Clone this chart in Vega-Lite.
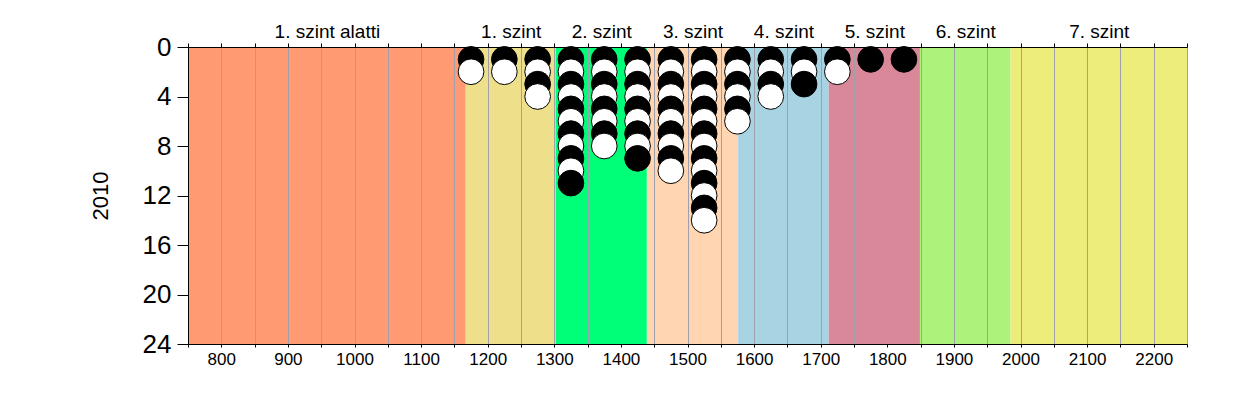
{
  "$schema": "https://vega.github.io/schema/vega-lite/v6.json",
  "width": 999,
  "height": 297,
  "autosize": "none",
  "padding": {"left": 188, "top": 47, "right": 63, "bottom": 51},
  "background": "white",
  "config": {
    "view": {"stroke": null},
    "font": "Liberation Sans",
    "axis": {"domainColor": "black", "tickColor": "black", "labelColor": "black", "titleColor": "black", "labelFont": "Liberation Sans", "titleFont": "Liberation Sans"}
  },
  "layer": [
    {
      "data": {"values": [
        {"level": "1. szint alatti", "from": 750, "to": 1167},
        {"level": "1. szint", "from": 1167, "to": 1302},
        {"level": "2. szint", "from": 1302, "to": 1439},
        {"level": "3. szint", "from": 1439, "to": 1576},
        {"level": "4. szint", "from": 1576, "to": 1712},
        {"level": "5. szint", "from": 1712, "to": 1849},
        {"level": "6. szint", "from": 1849, "to": 1985},
        {"level": "7. szint", "from": 1985, "to": 2250}
      ]},
      "mark": {"type": "rect"},
      "encoding": {
        "x": {
          "field": "from", "type": "quantitative",
          "scale": {"domain": [750, 2250], "nice": false, "zero": false},
          "axis": {
            "orient": "top", "title": null, "grid": false, "zindex": 1,
            "values": [750,800,850,900,950,1000,1050,1100,1150,1200,1250,1300,1350,1400,1450,1500,1550,1600,1650,1700,1750,1800,1850,1900,1950,2000,2050,2100,2150,2200,2250,958.5,1234.5,1370.5,1507.5,1644,1780.5,1917,2117.5],
            "labelExpr": "datum.value == 958.5 ? '1. szint alatti' : datum.value == 1234.5 ? '1. szint' : datum.value == 1370.5 ? '2. szint' : datum.value == 1507.5 ? '3. szint' : datum.value == 1644 ? '4. szint' : datum.value == 1780.5 ? '5. szint' : datum.value == 1917 ? '6. szint' : datum.value == 2117.5 ? '7. szint' : ''",
            "tickOpacity": {"condition": {"test": "datum.value % 50 == 0", "value": 1}, "value": 0},
            "tickSize": 4,
            "labelFontSize": 19,
            "labelPadding": 2,
            "labelOverlap": false,
            "labelFlush": false,
            "labelBound": false
          }
        },
        "x2": {"field": "to"},
        "color": {
          "field": "level", "type": "nominal", "legend": null,
          "scale": {
            "domain": ["1. szint alatti", "1. szint", "2. szint", "3. szint", "4. szint", "5. szint", "6. szint", "7. szint"],
            "range": ["#FF9A72", "#EEE08A", "#00FF78", "#FFD6B1", "#A7D3E3", "#D98899", "#ADF27B", "#EDED7B"]
          }
        }
      }
    },
    {
      "data": {"values": [
        {"score": 1175, "n": 1}, {"score": 1175, "n": 2},
        {"score": 1225, "n": 1}, {"score": 1225, "n": 2},
        {"score": 1275, "n": 1}, {"score": 1275, "n": 2}, {"score": 1275, "n": 3}, {"score": 1275, "n": 4},
        {"score": 1325, "n": 1}, {"score": 1325, "n": 2}, {"score": 1325, "n": 3}, {"score": 1325, "n": 4}, {"score": 1325, "n": 5}, {"score": 1325, "n": 6}, {"score": 1325, "n": 7}, {"score": 1325, "n": 8}, {"score": 1325, "n": 9}, {"score": 1325, "n": 10}, {"score": 1325, "n": 11},
        {"score": 1375, "n": 1}, {"score": 1375, "n": 2}, {"score": 1375, "n": 3}, {"score": 1375, "n": 4}, {"score": 1375, "n": 5}, {"score": 1375, "n": 6}, {"score": 1375, "n": 7}, {"score": 1375, "n": 8},
        {"score": 1425, "n": 1}, {"score": 1425, "n": 2}, {"score": 1425, "n": 3}, {"score": 1425, "n": 4}, {"score": 1425, "n": 5}, {"score": 1425, "n": 6}, {"score": 1425, "n": 7}, {"score": 1425, "n": 8}, {"score": 1425, "n": 9},
        {"score": 1475, "n": 1}, {"score": 1475, "n": 2}, {"score": 1475, "n": 3}, {"score": 1475, "n": 4}, {"score": 1475, "n": 5}, {"score": 1475, "n": 6}, {"score": 1475, "n": 7}, {"score": 1475, "n": 8}, {"score": 1475, "n": 9}, {"score": 1475, "n": 10},
        {"score": 1525, "n": 1}, {"score": 1525, "n": 2}, {"score": 1525, "n": 3}, {"score": 1525, "n": 4}, {"score": 1525, "n": 5}, {"score": 1525, "n": 6}, {"score": 1525, "n": 7}, {"score": 1525, "n": 8}, {"score": 1525, "n": 9}, {"score": 1525, "n": 10}, {"score": 1525, "n": 11}, {"score": 1525, "n": 12}, {"score": 1525, "n": 13}, {"score": 1525, "n": 14},
        {"score": 1575, "n": 1}, {"score": 1575, "n": 2}, {"score": 1575, "n": 3}, {"score": 1575, "n": 4}, {"score": 1575, "n": 5}, {"score": 1575, "n": 6},
        {"score": 1625, "n": 1}, {"score": 1625, "n": 2}, {"score": 1625, "n": 3}, {"score": 1625, "n": 4},
        {"score": 1675, "n": 1}, {"score": 1675, "n": 2}, {"score": 1675, "n": 3},
        {"score": 1725, "n": 1}, {"score": 1725, "n": 2},
        {"score": 1775, "n": 1},
        {"score": 1825, "n": 1}
      ]},
      "mark": {"type": "point", "shape": "circle", "filled": true, "size": 660, "stroke": "black", "strokeWidth": 1, "opacity": 1, "fillOpacity": 1, "strokeOpacity": 1},
      "encoding": {
        "x": {
          "field": "score", "type": "quantitative",
          "scale": {"domain": [750, 2250], "nice": false, "zero": false},
          "axis": {
            "orient": "bottom", "title": null, "grid": true, "gridColor": "#A0A0AA", "gridWidth": 1, "zindex": 1,
            "values": [750,800,850,900,950,1000,1050,1100,1150,1200,1250,1300,1350,1400,1450,1500,1550,1600,1650,1700,1750,1800,1850,1900,1950,2000,2050,2100,2150,2200,2250],
            "format": "d",
            "labelExpr": "datum.value % 100 == 0 ? datum.label : ''",
            "tickSize": 3,
            "labelFontSize": 17,
            "labelPadding": 4,
            "labelOverlap": false,
            "labelFlush": false,
            "labelBound": false
          }
        },
        "y": {
          "field": "n", "type": "quantitative",
          "scale": {"domain": [0, 24], "reverse": true, "nice": false, "zero": false},
          "axis": {
            "values": [0, 4, 8, 12, 16, 20, 24],
            "grid": false, "zindex": 1,
            "tickSize": 11,
            "labelFontSize": 26,
            "labelPadding": 6,
            "title": "2010",
            "titleFontSize": 22,
            "titleFontWeight": "normal",
            "titlePadding": 30
          }
        },
        "fill": {"condition": {"test": "datum.n % 2 == 1", "value": "black"}, "value": "white"}
      }
    }
  ],
  "resolve": {"axis": {"x": "independent"}}
}
